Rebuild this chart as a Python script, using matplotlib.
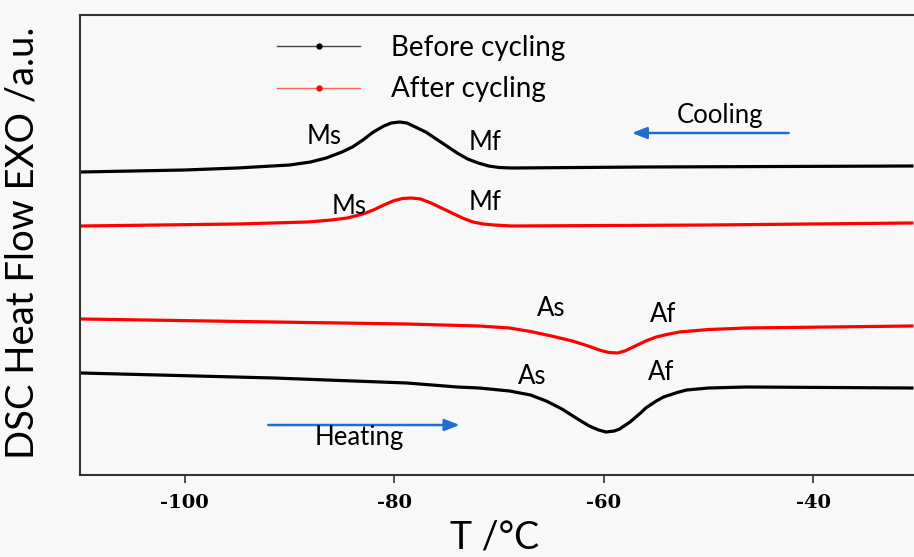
import matplotlib
matplotlib.use("Agg")
import matplotlib.pyplot as plt
from matplotlib.lines import Line2D

# DSC curves (T in degC, heat flow in arbitrary units)
t_cool_before = [-109.9, -100, -95, -90, -88, -86.5, -85, -84, -83, -82, -81, -80.3,
                 -79.5, -78.8, -78, -77, -76, -75, -74, -73, -72, -71, -70, -68.8,
                 -56.0, -30.6]
hf_cool_before = [303, 305, 307, 310, 313, 317, 323, 328, 335, 343, 349, 352,
                  353, 352, 348, 343, 336, 329, 322, 316, 312, 309, 307.5, 307,
                  308, 309]

t_cool_after = [-109.9, -95, -88.3, -86, -84.5, -83, -82, -81, -80, -79.2, -78.4,
                -77.5, -76.5, -75.5, -74.5, -73.5, -72.5, -71.5, -70.5, -68.8, -50, -30.6]
hf_cool_after = [249, 251, 253, 255, 257, 261, 265, 270, 274.5, 276.5, 277,
                 276, 272, 267, 262, 257, 253, 251, 250, 249, 250, 252]

t_heat_after = [-109.9, -91.5, -78.8, -71.9, -69, -67, -65, -63, -61.5, -60.3, -59.5,
                -58.7, -58, -57, -56, -55, -54, -52.8, -50, -46.4, -30.6]
hf_heat_after = [156, 153, 151, 149, 147, 143.5, 139, 134, 129, 124.5, 122.5,
                 122, 124, 129, 134, 138, 140.5, 143, 145.5, 147, 149]

t_heat_before = [-109.9, -91.5, -78.8, -74, -71.9, -69, -67, -65.5, -64, -62.5, -61.4,
                 -60.5, -59.8, -59, -58.5, -57.5, -56.5, -56, -55, -54.3, -53, -52.1,
                 -50, -46.4, -30.6]
hf_heat_before = [102, 97, 92, 88, 87, 84, 80, 74, 66, 56, 49,
                  45, 43, 44, 46, 53, 62, 67, 74, 78, 82.5, 85,
                  87, 88, 87]

xticks = [-100, -80, -60, -40]
labels = ["Before cycling", "After cycling"]

bg = "#f8f8f8"
blue = "#1f6fd0"
sans = ["Lato", "DejaVu Sans"]

fig = plt.figure(figsize=(9.14, 5.57), dpi=100, facecolor=bg)
ax = fig.add_axes([80 / 914, 1 - 475 / 557, 1 - 80 / 914, 460 / 557], facecolor=bg)

ax.plot(t_cool_before, hf_cool_before, color="black", lw=2.3, solid_joinstyle="round")
ax.plot(t_cool_after, hf_cool_after, color="red", lw=2.3, solid_joinstyle="round")
ax.plot(t_heat_after, hf_heat_after, color="red", lw=2.3, solid_joinstyle="round")
ax.plot(t_heat_before, hf_heat_before, color="black", lw=2.3, solid_joinstyle="round")

ax.set_xlim(-110, -30.4)
ax.set_ylim(0, 460)

for s in ["left", "bottom", "top"]:
    ax.spines[s].set_linewidth(1.5)
    ax.spines[s].set_color("#333333")
ax.spines["right"].set_visible(False)

ax.set_yticks([])
ax.set_xticks(xticks)
ax.set_xticklabels([str(v) for v in xticks], family="DejaVu Serif",
                   fontweight="bold", fontsize=14)
ax.tick_params(axis="x", direction="out", length=6, width=1.2, color="#333333", pad=8)

ax.set_xlabel("T /°C", family=sans, fontsize=27)
ax.xaxis.set_label_coords(0.497, -0.097)
ax.set_ylabel("DSC Heat Flow EXO /a.u.", family=sans, fontsize=27.5)
ax.yaxis.set_label_coords(-0.047, 0.505)

# transition labels
tkw = dict(family=sans, fontsize=18.5, ha="center", va="center")
ax.text(-86.7, 338, "Ms", **tkw)
ax.text(-71.3, 332, "Mf", **tkw)
ax.text(-84.3, 268, "Ms", **tkw)
ax.text(-71.3, 273, "Mf", **tkw)
ax.text(-65.0, 166, "As", **tkw)
ax.text(-54.3, 160, "Af", **tkw)
ax.text(-66.8, 98, "As", **tkw)
ax.text(-54.5, 102, "Af", **tkw)

# direction arrows
akw = dict(arrowstyle="-|>,head_length=0.9,head_width=0.35", color=blue, lw=1.8)
ax.annotate("", xy=(-57.6, 342), xytext=(-42.1, 342), arrowprops=akw)
ax.annotate("", xy=(-73.5, 50), xytext=(-92.3, 50), arrowprops=akw)
ax.text(-48.9, 359, "Cooling", **tkw)
ax.text(-83.3, 38, "Heating", **tkw)

handles = [
    Line2D([], [], color="#444444", lw=1, marker="o", ms=3.5,
           markerfacecolor="black", markeredgecolor="black"),
    Line2D([], [], color="#ff6060", lw=1, marker="o", ms=3.5,
           markerfacecolor="red", markeredgecolor="red"),
]
ax.legend(handles, labels, loc="upper left", bbox_to_anchor=(197 / 834, 1 - 20 / 460),
          frameon=False, prop={"family": sans, "size": 20}, handlelength=3.0,
          handletextpad=1.1, labelspacing=0.55, borderpad=0, borderaxespad=0,
          numpoints=1)

fig.savefig("out.png", dpi=100, facecolor=bg)
